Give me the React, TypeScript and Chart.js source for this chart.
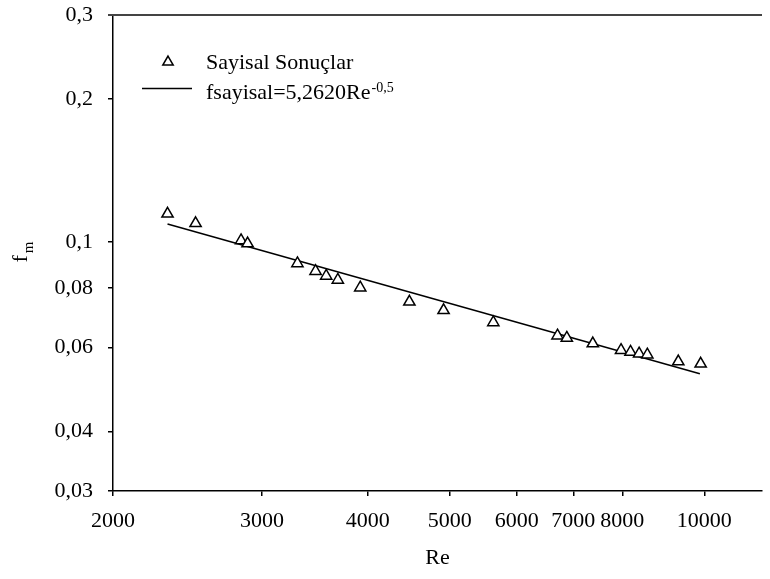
import React, { useEffect, useRef } from 'react';
import { Chart, registerables } from 'chart.js';

Chart.register(...registerables);

// ---- data ----
const reValues = [2320, 2504, 2834, 2885, 3304, 3471, 3573, 3688, 3920, 4481, 4918, 5631, 6706, 6878, 7382, 7972, 8180, 8374, 8563, 9316, 9901];
const fValues = [0.1147, 0.1095, 0.1008, 0.0993, 0.0902, 0.0869, 0.0849, 0.0833, 0.0802, 0.0749, 0.0719, 0.0678, 0.0636, 0.0629, 0.0612, 0.0593, 0.0588, 0.0583, 0.0580, 0.0561, 0.0555];
const fitRe = [2320, 9880];
const fitF = [0.1092, 0.0529];

const xTicks = [2000, 3000, 4000, 5000, 6000, 7000, 8000, 10000];
const xTickLabels = ['2000', '3000', '4000', '5000', '6000', '7000', '8000', '10000'];
const yTicks = [0.03, 0.04, 0.06, 0.08, 0.1, 0.2, 0.3];
const yTickLabels = ['0,03', '0,04', '0,06', '0,08', '0,1', '0,2', '0,3'];

const seriesLabel = 'Sayisal Sonuçlar';
const fitLabelMain = 'fsayisal=5,2620Re';
const fitLabelSup = '-0,5';
const xTitle = 'Re';
const yTitleMain = 'f';
const yTitleSub = 'm';

const X_MIN = 2000;
const X_MAX = 11700;
const Y_MIN = 0.03;
const Y_MAX = 0.3;

const FONT = "'Liberation Serif', 'Times New Roman', serif";

function triangle(ctx: CanvasRenderingContext2D, x: number, y: number, r: number) {
  let rad = 0;
  ctx.beginPath();
  ctx.moveTo(x + Math.sin(rad) * r, y - Math.cos(rad) * r);
  rad += (2 * Math.PI) / 3;
  ctx.lineTo(x + Math.sin(rad) * r, y - Math.cos(rad) * r);
  rad += (2 * Math.PI) / 3;
  ctx.lineTo(x + Math.sin(rad) * r, y - Math.cos(rad) * r);
  ctx.closePath();
  ctx.fillStyle = '#fff';
  ctx.fill();
  ctx.stroke();
}

const overlay = {
  id: 'overlay',
  afterDraw(chart: any) {
    const ctx: CanvasRenderingContext2D = chart.ctx;
    const a = chart.chartArea;
    ctx.save();
    // top frame line
    ctx.strokeStyle = '#444';
    ctx.lineWidth = 2;
    ctx.beginPath();
    ctx.moveTo(a.left - 5, a.top);
    ctx.lineTo(a.right, a.top);
    ctx.stroke();

    // legend
    ctx.strokeStyle = '#000';
    ctx.lineWidth = 1.5;
    triangle(ctx, 168, 62, 6);
    ctx.beginPath();
    ctx.moveTo(142, 88.5);
    ctx.lineTo(192, 88.5);
    ctx.stroke();
    ctx.fillStyle = '#000';
    ctx.textAlign = 'left';
    ctx.textBaseline = 'alphabetic';
    ctx.font = `22px ${FONT}`;
    ctx.fillText(seriesLabel, 206, 69);
    ctx.fillText(fitLabelMain, 206, 99);
    const w = ctx.measureText(fitLabelMain).width;
    ctx.font = `14px ${FONT}`;
    ctx.fillText(fitLabelSup, 206 + w + 1, 92);

    // y title f_m
    ctx.translate(27, 262.5);
    ctx.rotate(-Math.PI / 2);
    ctx.font = `22px ${FONT}`;
    ctx.fillText(yTitleMain, 0, 0);
    const fw = ctx.measureText(yTitleMain).width;
    ctx.font = `15px ${FONT}`;
    ctx.fillText(yTitleSub, fw + 2, 6);
    ctx.restore();
  },
};

export default function App() {
  const ref = useRef<HTMLCanvasElement | null>(null);

  useEffect(() => {
    if (!ref.current) return;
    const chart = new Chart(ref.current, {
      type: 'scatter',
      data: {
        datasets: [
          {
            type: 'line',
            label: fitLabelMain,
            data: fitRe.map((x, i) => ({ x, y: fitF[i] })),
            borderColor: '#000',
            borderWidth: 1.5,
            pointRadius: 0,
            showLine: true,
            fill: false,
            order: 2,
          },
          {
            type: 'scatter',
            label: seriesLabel,
            data: reValues.map((x, i) => ({ x, y: fValues[i] })),
            pointStyle: 'triangle',
            pointRadius: 6.5,
            pointBorderWidth: 1.5,
            borderColor: '#000',
            backgroundColor: '#fff',
            order: 1,
          },
        ] as any,
      },
      options: {
        animation: false,
        responsive: false,
        devicePixelRatio: 1,
        layout: { padding: { top: 15, right: 0, bottom: 0, left: 0 } },
        plugins: {
          legend: { display: false },
          tooltip: { enabled: false },
        },
        scales: {
          x: {
            type: 'logarithmic',
            min: X_MIN,
            max: X_MAX,
            afterBuildTicks: (s: any) => {
              s.ticks = xTicks.map((v) => ({ value: v }));
            },
            afterFit: (s: any) => {
              s.height = 88;
              s.paddingLeft = 0;
              s.paddingRight = 0;
              s.paddingTop = 0;
              s.paddingBottom = 0;
            },
            ticks: {
              autoSkip: false,
              maxRotation: 0,
              minRotation: 0,
              padding: 12,
              color: '#000',
              font: { family: FONT, size: 22 },
              callback: (v: any) => {
                const i = xTicks.indexOf(Number(v));
                return i >= 0 ? xTickLabels[i] : '';
              },
            },
            grid: { drawOnChartArea: false, drawTicks: true, tickLength: 5, color: '#000', lineWidth: 1.5 },
            border: { display: true, color: '#000', width: 1.5 },
            title: {
              display: true,
              text: xTitle,
              color: '#000',
              font: { family: FONT, size: 22 },
              padding: { top: 4, bottom: 8 },
            },
          },
          y: {
            type: 'logarithmic',
            min: Y_MIN,
            max: Y_MAX,
            afterBuildTicks: (s: any) => {
              s.ticks = yTicks.map((v) => ({ value: v }));
            },
            afterFit: (s: any) => {
              s.width = 113;
              s.paddingLeft = 0;
              s.paddingRight = 0;
              s.paddingTop = 0;
              s.paddingBottom = 0;
            },
            ticks: {
              autoSkip: false,
              padding: 15,
              color: '#000',
              font: { family: FONT, size: 22 },
              callback: (v: any) => {
                const i = yTicks.indexOf(Number(v));
                return i >= 0 ? yTickLabels[i] : '';
              },
            },
            grid: { drawOnChartArea: false, drawTicks: true, tickLength: 5, color: '#000', lineWidth: 1.5 },
            border: { display: true, color: '#000', width: 1.5 },
          },
        },
      } as any,
      plugins: [overlay],
    });
    return () => chart.destroy();
  }, []);

  return (
    <div style={{ position: 'absolute', left: 0, top: 0, width: 770, height: 579, background: '#fff' }}>
      <canvas ref={ref} width={770} height={579} style={{ display: 'block', width: 770, height: 579 }} />
    </div>
  );
}
